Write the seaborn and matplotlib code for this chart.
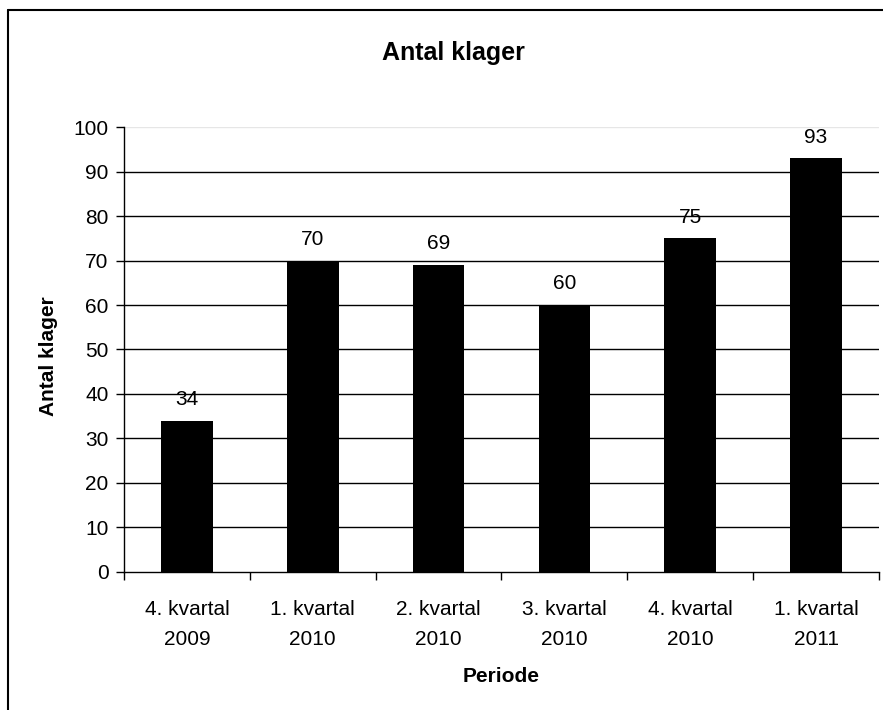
import matplotlib
matplotlib.use('Agg')
import matplotlib.pyplot as plt
import seaborn as sns
import pandas as pd
from matplotlib.lines import Line2D

# Data
perioder = ['4. kvartal\n2009', '1. kvartal\n2010', '2. kvartal\n2010',
            '3. kvartal\n2010', '4. kvartal\n2010', '1. kvartal\n2011']
antal = [34, 70, 69, 60, 75, 93]

df = pd.DataFrame({'periode': perioder, 'antal': antal})

sns.set_style('white')
plt.rcParams['font.family'] = ['Liberation Sans', 'DejaVu Sans']
plt.rcParams['text.color'] = 'black'
plt.rcParams['axes.labelcolor'] = 'black'
plt.rcParams['xtick.color'] = 'black'
plt.rcParams['ytick.color'] = 'black'

FS = 15

fig = plt.figure(figsize=(8.83, 7.10), dpi=100)
ax = fig.add_axes([0.1404, 0.1944, 0.8551, 0.6267])

sns.barplot(data=df, x='periode', y='antal', color='black', width=0.41,
            saturation=1, edgecolor='black', linewidth=0, ax=ax)

ax.set_ylim(0, 100)
ax.set_xlim(-0.5, len(perioder) - 0.5)
ax.set_yticks(range(0, 101, 10))
for y in range(10, 100, 10):
    ax.axhline(y, color='black', lw=1, zorder=0)
ax.axhline(100, color='#e6e6e6', lw=1, zorder=0)

for i, v in enumerate(antal):
    ax.text(i, v + 2.6, str(v), ha='center', va='bottom', fontsize=FS)

# Tick marks on category boundaries
ax.set_xticks(range(len(perioder)))
ax.set_xticklabels(perioder, fontsize=FS, linespacing=1.75)
ax.tick_params(axis='x', which='major', bottom=True, length=0, pad=20)
ax.set_xticks([i - 0.5 for i in range(len(perioder) + 1)], minor=True)
ax.tick_params(axis='x', which='minor', bottom=True, length=6, width=1, color='black', direction='out')
ax.tick_params(axis='y', left=True, length=6, width=1, color='black', direction='out', labelsize=FS, pad=5)

for s in ['top', 'right']:
    ax.spines[s].set_visible(False)
for s in ['left', 'bottom']:
    ax.spines[s].set_color('black')
    ax.spines[s].set_linewidth(1)

ax.set_xlabel('Periode', fontsize=FS, fontweight='bold', labelpad=13)
ax.set_ylabel('Antal klager', fontsize=FS, fontweight='bold')
ax.yaxis.set_label_coords(-0.088, 0.485)
fig.text(0.514, 0.925, 'Antal klager', ha='center', va='center', fontsize=18, fontweight='bold')

# Chart frame (left and top edges visible)
fig.add_artist(Line2D([0.0096, 0.0096], [0, 0.986], transform=fig.transFigure, color='black', lw=1.5))
fig.add_artist(Line2D([0.0096, 1.0], [0.986, 0.986], transform=fig.transFigure, color='black', lw=1.5))

fig.savefig('out.png', dpi=100)
